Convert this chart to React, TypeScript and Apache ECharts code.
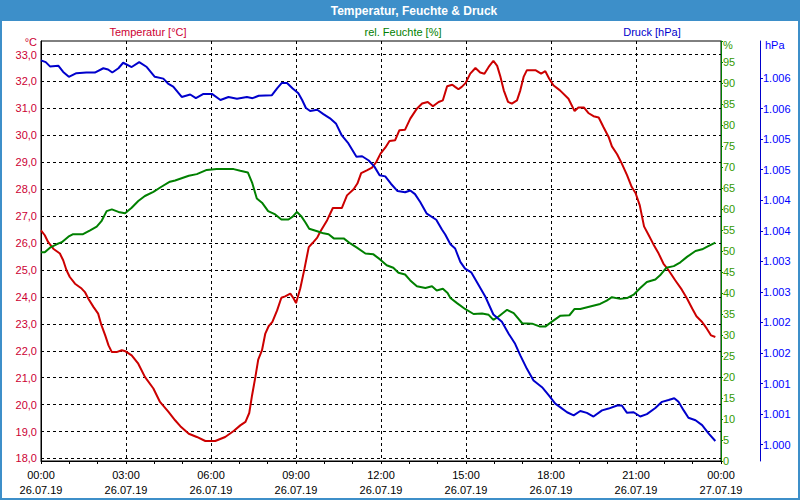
import React, { useEffect, useRef } from 'react';
import * as echarts from 'echarts';

const TITLE = 'Temperatur, Feuchte & Druck';
const LEGEND_TEMP = 'Temperatur [°C]';
const LEGEND_HUM = 'rel. Feuchte [%]';
const LEGEND_PRESS = 'Druck [hPa]';
const UNIT_TEMP = '°C';
const UNIT_HUM = '%';
const UNIT_PRESS = 'hPa';
const DAY1 = '26.07.19';
const DAY2 = '27.07.19';

// tick values
const tempTicks = [18, 19, 20, 21, 22, 23, 24, 25, 26, 27, 28, 29, 30, 31, 32, 33];
const pressTicks = [1000, 1000.5, 1001, 1001.5, 1002, 1002.5, 1003, 1003.5, 1004, 1004.5, 1005, 1005.5, 1006];

// [minutes since 00:00 26.07.19, value]
const temperature: [number, number][] = [
  [0, 26.47], [8, 26.29], [15, 26.04], [26, 25.79], [40, 25.61], [47, 25.36], [54, 24.99], [61, 24.74],
  [72, 24.49], [86, 24.31], [93, 24.18], [100, 23.94], [111, 23.63], [121, 23.38], [128, 22.95], [136, 22.57],
  [143, 22.2], [150, 21.95], [160, 21.95], [171, 22.02], [179, 21.98], [192, 21.83], [206, 21.52], [220, 21.03],
  [238, 20.6], [252, 20.1], [270, 19.73], [284, 19.42], [295, 19.2], [313, 18.92], [330, 18.8], [348, 18.65],
  [369, 18.65], [390, 18.8], [408, 19.02], [422, 19.23], [433, 19.36], [441, 19.69], [447, 20.35], [454, 21.03],
  [460, 21.67], [468, 22.02], [475, 22.64], [482, 22.91], [490, 23.07], [500, 23.5], [509, 23.97], [517, 24.02],
  [528, 24.12], [535, 23.94], [540, 23.77], [549, 24.31], [558, 25.05], [567, 25.85], [575, 26.0], [585, 26.2],
  [591, 26.41], [606, 26.85], [618, 27.3], [637, 27.3], [648, 27.77], [662, 28.0], [670, 28.21], [678, 28.6],
  [690, 28.7], [701, 28.8], [710, 29.01], [719, 29.32], [729, 29.54], [738, 29.79], [750, 29.82], [759, 30.19],
  [771, 30.21], [782, 30.62], [796, 30.99], [807, 31.18], [819, 31.24], [830, 31.08], [842, 31.24], [851, 31.3],
  [860, 31.82], [871, 31.88], [877, 31.8], [884, 31.71], [891, 31.8], [899, 31.94], [909, 32.29], [920, 32.5],
  [930, 32.33], [939, 32.29], [948, 32.54], [958, 32.77], [966, 32.58], [973, 32.17], [980, 31.67], [989, 31.24],
  [997, 31.18], [1008, 31.3], [1015, 31.67], [1022, 32.17], [1029, 32.42], [1047, 32.42], [1059, 32.29], [1068, 32.38],
  [1076, 32.11], [1085, 31.86], [1099, 31.67], [1117, 31.36], [1130, 30.9], [1138, 31.03], [1150, 31.03], [1159, 30.83],
  [1170, 30.71], [1181, 30.66], [1191, 30.31], [1202, 29.94], [1209, 29.59], [1220, 29.3], [1230, 28.95], [1241, 28.52],
  [1251, 28.08], [1259, 27.86], [1268, 27.4], [1277, 26.62], [1287, 26.29], [1297, 25.95], [1308, 25.61], [1318, 25.24],
  [1329, 24.99], [1343, 24.62], [1357, 24.27], [1368, 23.94], [1379, 23.57], [1388, 23.28], [1400, 23.07], [1410, 22.82],
  [1419, 22.57], [1428, 22.51],
];

const humidity: [number, number][] = [
  [0, 49.7], [8, 49.7], [19, 50.8], [33, 51.6], [44, 52.1], [58, 53.4], [68, 54.0], [89, 54.0], [104, 54.9],
  [118, 55.8], [128, 57.1], [139, 59.5], [150, 59.9], [164, 59.3], [178, 59.0], [192, 60.3], [206, 61.9], [220, 63.1],
  [238, 64.1], [255, 65.3], [273, 66.5], [284, 66.8], [313, 67.9], [330, 68.3], [351, 69.3], [372, 69.5], [408, 69.5],
  [422, 69.1], [438, 68.7], [447, 66.3], [457, 62.5], [468, 61.5], [481, 59.5], [496, 58.7], [509, 57.5], [524, 57.5],
  [533, 58.2], [542, 59.3], [551, 58.3], [560, 56.8], [568, 55.3], [585, 54.7], [598, 54.2], [609, 54.0], [620, 53.0],
  [641, 53.0], [655, 51.8], [669, 50.8], [687, 49.4], [704, 49.2], [718, 48.0], [732, 46.6], [746, 46.0], [757, 44.8],
  [771, 44.4], [782, 43.0], [796, 41.6], [814, 41.2], [828, 41.6], [838, 40.6], [851, 41.0], [861, 40.0], [867, 38.8],
  [881, 37.6], [898, 36.2], [916, 35.0], [934, 35.1], [948, 34.8], [958, 33.6], [969, 34.4], [987, 36.0], [1001, 35.2],
  [1019, 32.8], [1040, 32.7], [1057, 32.0], [1068, 32.0], [1082, 33.2], [1100, 34.6], [1119, 34.7], [1130, 36.2],
  [1142, 36.2], [1163, 36.8], [1184, 37.4], [1198, 38.2], [1209, 39.0], [1227, 38.6], [1241, 38.8], [1255, 39.6],
  [1269, 41.2], [1283, 42.6], [1301, 43.2], [1311, 44.2], [1324, 46.0], [1340, 46.4], [1354, 47.3], [1368, 48.6],
  [1386, 50.0], [1400, 50.4], [1414, 51.2], [1428, 52.0],
];

const pressure: [number, number][] = [
  [0, 1006.29], [10, 1006.26], [19, 1006.19], [37, 1006.2], [47, 1006.1], [59, 1006.02], [75, 1006.08], [96, 1006.09],
  [114, 1006.09], [132, 1006.16], [142, 1006.14], [151, 1006.09], [164, 1006.16], [174, 1006.25], [192, 1006.18],
  [208, 1006.26], [224, 1006.18], [241, 1006.02], [259, 1005.99], [269, 1005.91], [280, 1005.86], [298, 1005.69],
  [316, 1005.73], [328, 1005.67], [344, 1005.74], [362, 1005.74], [380, 1005.64], [397, 1005.69], [415, 1005.66],
  [436, 1005.69], [448, 1005.67], [461, 1005.71], [489, 1005.72], [500, 1005.83], [510, 1005.92], [521, 1005.92],
  [533, 1005.83], [545, 1005.75], [553, 1005.64], [561, 1005.51], [570, 1005.46], [585, 1005.48], [598, 1005.41],
  [612, 1005.34], [625, 1005.25], [637, 1005.06], [651, 1004.93], [668, 1004.71], [680, 1004.72], [694, 1004.65],
  [706, 1004.55], [717, 1004.41], [729, 1004.39], [741, 1004.27], [755, 1004.15], [771, 1004.13], [782, 1004.16],
  [792, 1004.1], [803, 1003.97], [817, 1003.78], [837, 1003.68], [849, 1003.52], [856, 1003.44], [867, 1003.28],
  [877, 1003.21], [888, 1002.99], [898, 1002.88], [911, 1002.82], [923, 1002.66], [941, 1002.42], [958, 1002.13],
  [976, 1002.01], [990, 1001.82], [1004, 1001.65], [1015, 1001.46], [1029, 1001.24], [1043, 1001.05], [1061, 1000.94],
  [1075, 1000.81], [1089, 1000.67], [1100, 1000.61], [1114, 1000.53], [1128, 1000.48], [1142, 1000.55], [1156, 1000.52],
  [1170, 1000.46], [1188, 1000.56], [1202, 1000.59], [1220, 1000.64], [1230, 1000.64], [1241, 1000.52], [1255, 1000.53],
  [1269, 1000.46], [1283, 1000.5], [1301, 1000.6], [1315, 1000.7], [1329, 1000.73], [1341, 1000.76], [1350, 1000.7],
  [1361, 1000.56], [1371, 1000.44], [1386, 1000.4], [1400, 1000.32], [1414, 1000.18], [1428, 1000.06],
];

const FRAME = '#3d8fc9';
const RED = '#cc0000';
const RED_TXT = '#cc0033';
const GREEN = '#008000';
const GREEN_TXT = '#339900';
const BLUE = '#0000cc';
const BLUE_TXT = '#0000ff';
const FONT = 'Liberation Sans, Arial, sans-serif';

const pad2 = (n: number) => (n < 10 ? '0' + n : '' + n);

export default function App() {
  const ref = useRef<HTMLDivElement>(null);
  useEffect(() => {
    if (!ref.current) return;
    const chart = echarts.init(ref.current, null, { renderer: 'svg' });
    const dash = { color: '#000', type: [3, 3] as any, width: 1 };
    chart.setOption({
      animation: false,
      backgroundColor: '#fff',
      grid: { left: 41, top: 41, width: 680, height: 420, show: true, borderColor: '#000', borderWidth: 1, backgroundColor: '#fff' },
      xAxis: {
        type: 'value', min: 0, max: 1440, interval: 180,
        axisLine: { lineStyle: { color: '#000' } },
        axisTick: { show: true, length: 3, lineStyle: { color: '#000' } },
        minorTick: { show: true, splitNumber: 3, length: 3, lineStyle: { color: '#000' } },
        splitLine: { show: true, lineStyle: dash },
        axisLabel: {
          margin: 6, color: '#000', fontFamily: FONT, fontSize: 11, lineHeight: 15,
          formatter: (v: number) => {
            const h = Math.floor(v / 60) % 24;
            const m = Math.round(v % 60);
            return pad2(h) + ':' + pad2(m) + '\n' + (v >= 1440 ? DAY2 : DAY1);
          },
        },
      },
      yAxis: [
        {
          type: 'value', min: 17.907, max: 33.503, position: 'left',
          axisLine: { show: true, lineStyle: { color: '#000' } },
          axisTick: { show: false, customValues: tempTicks },
          splitLine: { show: true, lineStyle: dash },
          axisLabel: {
            customValues: tempTicks, margin: 4, color: RED_TXT, fontFamily: FONT, fontSize: 11,
            formatter: (v: number) => v.toFixed(1).replace('.', ','),
          },
        },
        {
          type: 'value', min: 0, max: 100, interval: 5, position: 'right',
          axisLine: { show: true, lineStyle: { color: GREEN } },
          axisTick: { show: true, length: 2, lineStyle: { color: GREEN } },
          splitLine: { show: false },
          axisLabel: {
            margin: 2, color: GREEN_TXT, fontFamily: FONT, fontSize: 11,
            formatter: (v: number) => (v >= 100 ? '' : String(v)),
          },
        },
        {
          type: 'value', min: 999.732, max: 1006.606, position: 'right', offset: 39,
          axisLine: { show: true, lineStyle: { color: BLUE } },
          axisTick: { show: true, length: 3, customValues: pressTicks, lineStyle: { color: BLUE } },
          splitLine: { show: false },
          axisLabel: {
            customValues: pressTicks, margin: 3, color: BLUE_TXT, fontFamily: FONT, fontSize: 11,
            formatter: (v: number) => {
              const r = Math.round(v);
              return Math.floor(r / 1000) + '.' + String(r % 1000).padStart(3, '0');
            },
          },
        },
      ],
      series: [
        { type: 'line', name: LEGEND_TEMP, yAxisIndex: 0, data: temperature, showSymbol: false, lineStyle: { color: RED, width: 2 }, itemStyle: { color: RED } },
        { type: 'line', name: LEGEND_HUM, yAxisIndex: 1, data: humidity, showSymbol: false, lineStyle: { color: GREEN, width: 2 }, itemStyle: { color: GREEN } },
        { type: 'line', name: LEGEND_PRESS, yAxisIndex: 2, data: pressure, showSymbol: false, lineStyle: { color: BLUE, width: 2 }, itemStyle: { color: BLUE } },
      ],
      graphic: [
        { type: 'rect', left: 0, top: 0, shape: { x: 0, y: 0, width: 800, height: 21 }, style: { fill: FRAME }, z: 10 },
        { type: 'rect', shape: { x: 1, y: 1, width: 798, height: 498 }, style: { fill: 'none', stroke: FRAME, lineWidth: 2 }, z: 10 },
        { type: 'text', x: 414, y: 11, z: 11, style: { text: TITLE, fill: '#fff', font: 'bold 12px ' + FONT, align: 'center', verticalAlign: 'middle' } },
        { type: 'text', x: 148, y: 32, z: 11, style: { text: LEGEND_TEMP, fill: RED_TXT, font: '11px ' + FONT, align: 'center', verticalAlign: 'middle' } },
        { type: 'text', x: 403, y: 32, z: 11, style: { text: LEGEND_HUM, fill: GREEN, font: '11px ' + FONT, align: 'center', verticalAlign: 'middle' } },
        { type: 'text', x: 652, y: 32, z: 11, style: { text: LEGEND_PRESS, fill: BLUE, font: '11px ' + FONT, align: 'center', verticalAlign: 'middle' } },
        { type: 'text', x: 37, y: 42, z: 11, style: { text: UNIT_TEMP, fill: RED_TXT, font: '11px ' + FONT, align: 'right', verticalAlign: 'middle' } },
        { type: 'text', x: 723, y: 45, z: 11, style: { text: UNIT_HUM, fill: GREEN_TXT, font: '11px ' + FONT, align: 'left', verticalAlign: 'middle' } },
        { type: 'text', x: 765, y: 45, z: 11, style: { text: UNIT_PRESS, fill: BLUE_TXT, font: '11px ' + FONT, align: 'left', verticalAlign: 'middle' } },
      ],
    });
    return () => chart.dispose();
  }, []);
  return <div ref={ref} style={{ position: 'absolute', left: 0, top: 0, width: 800, height: 500 }} />;
}
